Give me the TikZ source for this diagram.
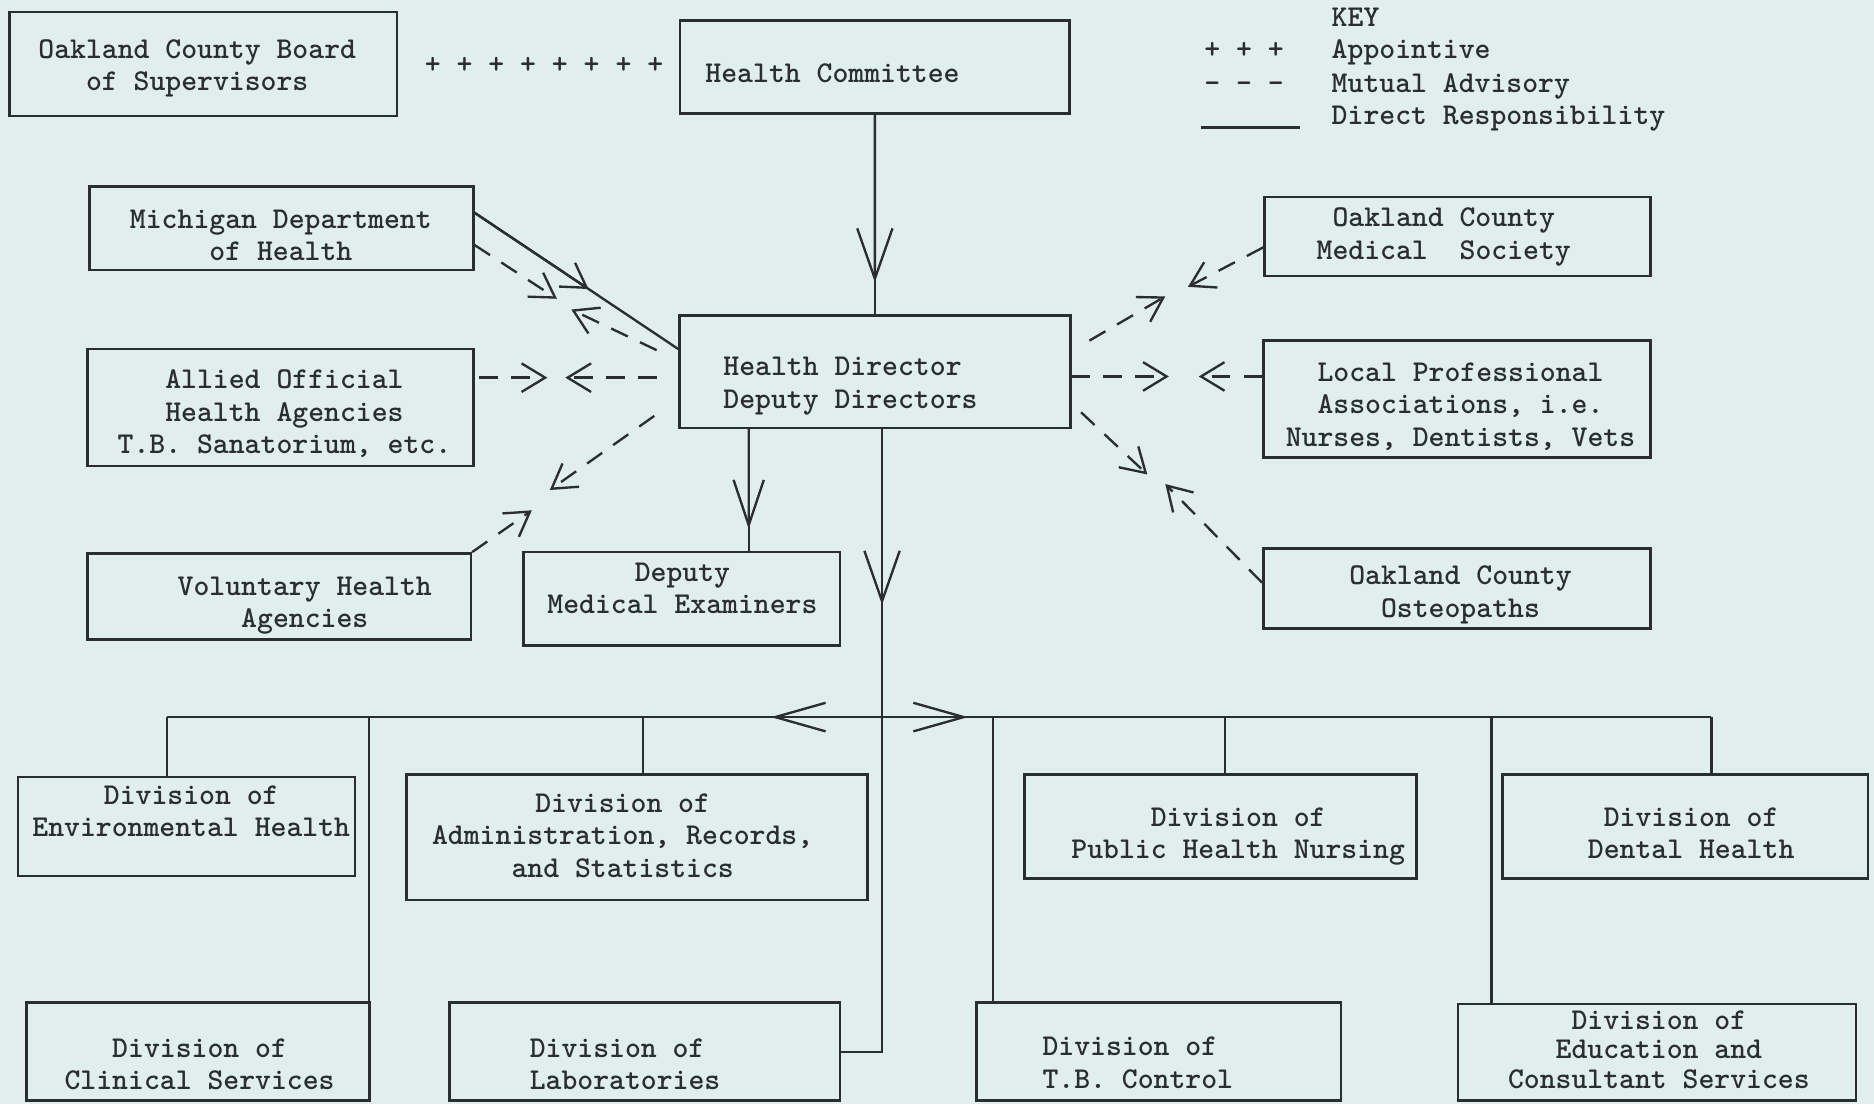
\documentclass[tikz,border=0pt]{standalone}
\usetikzlibrary{arrows.meta,calc}
\definecolor{bgc}{RGB}{224,238,238}
\definecolor{ink}{RGB}{42,46,46}
\newcommand\mytc[1]{\begin{tabular}{@{}c@{}}#1\end{tabular}}
\newcommand\mytl[1]{\begin{tabular}{@{}l@{}}#1\end{tabular}}
\tikzset{
  BB/.tip={Straight Barb[length=30pt,width=21pt]},
  MB/.tip={Straight Barb[length=27pt,width=18pt]},
  HB/.tip={Straight Barb[length=30pt,width=17pt]},
  SB/.tip={Straight Barb[length=14pt,width=17pt]},
}
\begin{document}
\begin{tikzpicture}[x=0.025cm,y=-0.025cm,
  every node/.style={font=\ttfamily\bfseries\fontsize{18}{19.2}\selectfont, text=ink},
  box/.style 2 args={draw=ink, line width=1.5pt, minimum width=#1*0.025cm, minimum height=#2*0.025cm, inner sep=0pt},
  txt/.style={inner sep=0pt},
  ln/.style={draw=ink, line width=1.4pt},
  dsh/.style={ln, dash pattern=on 11pt off 8pt}]
\fill[bgc] (0,0) rectangle (1568,924);
\useasboundingbox (0,0) rectangle (1568,924);

% ---------- boxes ----------
\node[box={324}{87}] (ocb) at (170,53.5) {};
\node[box={326}{78}] (hc) at (732,56) {};
\node[box={321}{70}] (mi) at (235.5,191) {};
\node[box={327}{94}] (hd) at (732,311) {};
\node[box={323}{98}] (al) at (234.5,341) {};
\node[box={321}{72}] (vo) at (233.5,499) {};
\node[box={265}{78}] (dme) at (570.5,501) {};
\node[box={323}{66}] (ms) at (1219.5,198) {};
\node[box={324}{98}] (lp) at (1219,334) {};
\node[box={324}{67}] (os) at (1219,492.5) {};
\node[box={282}{83}] (env) at (156,691.5) {};
\node[box={386}{105}] (adm) at (533,700.5) {};
\node[box={328}{87}] (phn) at (1021,691.5) {};
\node[box={306}{87}] (den) at (1410,691.5) {};
\node[box={287}{82}] (cli) at (165.5,880) {};
\node[box={327}{82}] (lab) at (539.5,880) {};
\node[box={305}{82}] (tb) at (969.5,880) {};
\node[box={333}{81}] (edu) at (1386.5,880.5) {};

% ---------- texts ----------
\node[txt] (ocb-t) at (165,57) {\mytc{Oakland County Board\\of Supervisors}};
\node[txt,anchor=west] (hc-t) at (590,61) {Health Committee};
\node[txt] (mi-t) at (235,199) {\mytc{Michigan Department\\of Health}};
\node[txt,anchor=west] (hd-t) at (605,322.5) {\mytl{Health Director\\Deputy Directors}};
\node[txt] (al-t) at (238,347) {\mytc{Allied Official\\Health Agencies\\T.B. Sanatorium, etc.}};
\node[txt] (vo-t) at (255,506.5) {\mytc{Voluntary Health\\Agencies}};
\node[txt] (dme-t) at (571,494.5) {\mytc{Deputy\\Medical Examiners}};
\node[txt] (ms-t) at (1208,198) {\mytc{Oakland County\\Medical~~Society}};
\node[txt] (lp-t) at (1222,341) {\mytc{Local Professional\\Associations, i.e.\\Nurses, Dentists, Vets}};
\node[txt] (os-t) at (1222,497.5) {\mytc{Oakland County\\Osteopaths}};
\node[txt] (env-t) at (160,681) {\mytc{Division of\\Environmental Health}};
\node[txt] (adm-t) at (521,701.5) {\mytc{Division of\\Administration, Records,\\and Statistics}};
\node[txt] (phn-t) at (1036,699.5) {\mytc{Division of\\Public Health Nursing}};
\node[txt] (den-t) at (1415,699.5) {\mytc{Division of\\Dental Health}};
\node[txt] (cli-t) at (167,893) {\mytc{Division of\\Clinical Services}};
\node[txt,anchor=west] (lab-t) at (443,893) {\mytl{Division of\\Laboratories}};
\node[txt,anchor=west] (tb-t) at (872,891.5) {\mytl{Division of\\T.B. Control}};
\node[txt] (edu-t) at (1388,881) {\def\arraystretch{0.92}\mytc{Division of\\Education and\\Consultant Services}};

% ---------- key ----------
\node[txt,anchor=base west] (key) at (1114,22) {KEY};
\node[txt,anchor=base] (k-plus) at (1041,49) {+ + +};
\node[txt,anchor=base] (k-dash) at (1041,77) {- - -};
\node[txt,anchor=base west] (k-app) at (1114,49) {Appointive};
\node[txt,anchor=base west] (k-mut) at (1114,77) {Mutual Advisory};
\node[txt,anchor=base west] (k-dir) at (1114,104) {Direct Responsibility};
\coordinate (k1) at (1005,107);
\coordinate (k2) at (1088,107);
\draw[ln,line width=1.9pt] (k1) -- (k2);

% ---------- appointive ----------
\path (ocb.east) -- node[txt,pos=0.52] (plus) {+ + + + + + + +} (hc.west);

% ---------- direct responsibility ----------
\draw[ln] (hc.south) -- (hd.north);
\draw[ln,-{BB}] (hc.south) -- ($(hc.south)!0.84!(hd.north)$);

\coordinate (dtop) at ($(hd.south west)+(59,0)$);
\draw[ln] (dtop) -- (dtop |- dme.north);
\draw[ln,-{MB}] (dtop) -- ($(dtop)!0.82!(dtop |- dme.north)$);

\coordinate (tr) at ($(hd.south)+(6,0)$);
\draw[ln] (tr) |- (lab.east);
\draw[ln,-{BB}] (tr) -- ($(tr)+(0,147)$);

\coordinate (b1) at (140,600);
\coordinate (b2) at (309,600);
\coordinate (b3) at (538,600);
\coordinate (b4) at (831,600);
\coordinate (b5) at (1025,600);
\coordinate (b6) at (1248,600);
\coordinate (b7) at (1432,600);
\draw[ln] (b1) -- (b7);
\coordinate (jn) at (tr |- b1);
\draw[ln,-{HB}] (jn) -- ($(jn)+(-93,0)$);
\draw[ln,-{HB}] (jn) -- ($(jn)+(72,0)$);
\draw[ln] (b1) -- (b1 |- env.north);
\draw[ln] (b2) -- (b2 |- cli.north);
\draw[ln] (b3) -- (b3 |- adm.north);
\draw[ln] (b4) -- (b4 |- tb.north);
\draw[ln] (b5) -- (b5 |- phn.north);
\draw[ln] (b6) -- (b6 |- edu.north);
\draw[ln] (b7) -- (b7 |- den.north);

\coordinate (m1) at ($(mi.east)+(0,-13)$);
\coordinate (m2) at ($(hd.west)+(0,-19)$);
\draw[ln] (m1) -- (m2);
\draw[ln,-{SB}] (m1) -- ($(m1)!0.56!(m2)$);

% ---------- mutual advisory ----------
\coordinate (t1) at (466,250);
\coordinate (t2) at (478,259);
\coordinate (t3) at (458,316);
\coordinate (t4) at (473,316);
\coordinate (t5) at (445,427);
\coordinate (t6) at (460,410);
\coordinate (t7) at (975,248);
\coordinate (t8) at (994,240);
\coordinate (t9) at (978,315);
\coordinate (t10) at (1003,315);
\coordinate (t11) at (960,397);
\coordinate (t12) at (975,405);
\draw[dsh,-{SB}] ($(mi.east)+(0,14)$) -- (t1);
\draw[dsh,-{SB}] ($(hd.west)+(-18,-18)$) -- (t2);
\draw[dsh,-{SB}] ($(al.east)+(4,-25)$) -- (t3);
\draw[dsh,-{SB}] ($(hd.west)+(-18,5)$) -- (t4);
\draw[dsh,-{SB}] (vo.north east) -- (t5);
\draw[dsh,-{SB}] ($(hd.west)+(-20,37)$) -- (t6);
\draw[dsh,-{SB}] ($(hd.east)+(15,-26)$) -- (t7);
\draw[dsh,-{SB}] ($(ms.west)+(0,9)$) -- (t8);
\draw[dsh,-{SB}] ($(hd.east)+(0,4)$) -- (t9);
\draw[dsh,-{SB}] ($(lp.west)+(0,-19)$) -- (t10);
\draw[dsh,-{SB}] ($(hd.east)+(8,34)$) -- (t11);
\draw[dsh,-{SB}] ($(os.west)+(0,-5)$) -- (t12);
\end{tikzpicture}
\end{document}
